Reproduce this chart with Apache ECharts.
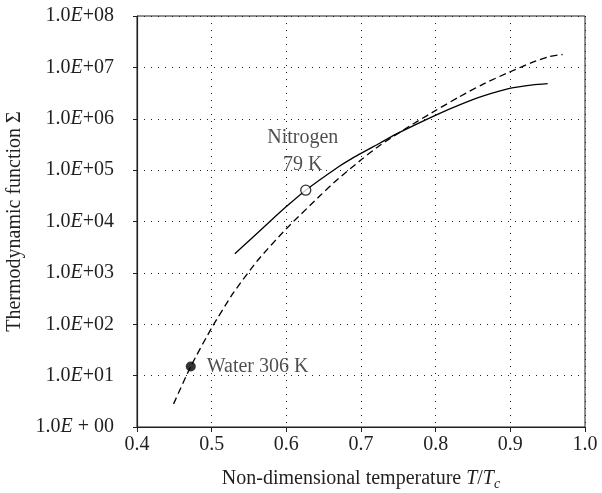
<!DOCTYPE html>
<html><head><meta charset="utf-8">
<script src="https://cdn.jsdelivr.net/npm/echarts@6/dist/echarts.min.js"></script>
<style>html,body{margin:0;padding:0;background:#fff}#c{width:602px;height:493px}</style>
</head><body><div id="c"></div>
<script>
// Nitrogen (solid) curve
const nitrogenX = [0.531, 0.578, 0.600, 0.626, 0.669, 0.687, 0.725, 0.747, 0.801, 0.832, 0.863, 0.899, 0.930, 0.950];
const nitrogenY = [2350, 1.0e4, 1.95e4, 4.07e4, 1.14e5, 1.66e5, 3.34e5, 5.01e5, 1.19e6, 1.86e6, 2.75e6, 3.89e6, 4.57e6, 4.83e6];
// Water (dashed) curve
const waterX = [0.449, 0.472, 0.500, 0.529, 0.562, 0.600, 0.645, 0.667, 0.701, 0.725, 0.761, 0.801, 0.832, 0.863, 0.899, 0.930, 0.952, 0.970];
const waterY = [2.82, 15.1, 85, 407, 1780, 7240, 3.16e4, 6.31e4, 1.62e5, 3.02e5, 6.61e5, 1.48e6, 2.69e6, 4.68e6, 8.13e6, 1.26e7, 1.62e7, 1.78e7];
// Marked points
const nitrogenPoint = [0.626, 4.07e4];
const waterPoint = [0.472, 15.1];

const ink = '#231f20';
const font = 'Liberation Serif';
const fs = 20;
const chart = echarts.init(document.getElementById('c'));
chart.setOption({
  animation: false,
  textStyle: {fontFamily: font, color: ink},
  grid: {left: 137, right: 17, top: 16, bottom: 66, show: true, borderColor: ink, borderWidth: 1,
         containLabel: false, outerBoundsMode: 'none'},
  xAxis: {
    type: 'value', min: 0.4, max: 1.0, interval: 0.1,
    name: 'Non-dimensional temperature {i|T}/{i|T}{s|c}',
    nameLocation: 'middle', nameGap: 40,
    nameTextStyle: {fontFamily: font, fontSize: fs, color: ink,
      rich: {i: {fontFamily: font, fontSize: fs, fontStyle: 'italic', color: ink},
             s: {fontFamily: font, fontSize: 14, fontStyle: 'italic', color: ink, verticalAlign: 'bottom', padding: [10,0,0,0]}}},
    axisLine: {show: true, lineStyle: {color: ink, width: 1.2}},
    axisTick: {show: true, length: 5, lineStyle: {color: ink}},
    axisLabel: {fontFamily: font, fontSize: fs, color: ink, margin: 8, formatter: v => v.toFixed(1)},
    splitLine: {show: true, lineStyle: {color: ink, type: [1, 6], width: 1}}
  },
  yAxis: {
    type: 'log', logBase: 10, min: 1, max: 1e8, splitNumber: 8,
    name: 'Thermodynamic function Σ',
    nameLocation: 'middle', nameGap: 101, nameRotate: 90,
    nameTextStyle: {fontFamily: font, fontSize: fs, color: ink},
    axisLine: {show: true, lineStyle: {color: ink, width: 1.2}},
    axisTick: {show: true, length: 4, lineStyle: {color: ink}},
    axisLabel: {
      fontFamily: font, fontSize: fs, color: ink, margin: 23,
      formatter: v => {
        const e = Math.round(Math.log10(v));
        if (e === 0) return '1.0{e|E} + 00';
        return '1.0{e|E}+' + (e < 10 ? '0' : '') + e;
      },
      rich: {e: {fontFamily: font, fontSize: fs, fontStyle: 'italic', color: ink}}
    },
    splitLine: {show: true, lineStyle: {color: ink, type: [1, 6], width: 1}}
  },
  series: [
    {type: 'line', data: nitrogenX.map((x, i) => [x, nitrogenY[i]]), smooth: 0.2, showSymbol: false,
     lineStyle: {color: '#000', width: 1.3}, z: 2},
    {type: 'line', data: waterX.map((x, i) => [x, waterY[i]]), smooth: 0.2, showSymbol: false,
     lineStyle: {color: '#000', width: 1.3, type: [7, 4]}, z: 2},
    {type: 'scatter', data: [nitrogenPoint], symbol: 'circle', symbolSize: 10,
     itemStyle: {color: '#fff', borderColor: '#000', borderWidth: 1.3}, z: 5,
     label: {show: true, position: 'top', distance: 6, offset: [-3, 0], formatter: 'Nitrogen\n79 K',
       fontFamily: font, fontSize: fs, color: ink, lineHeight: 27, align: 'center'}},
    {type: 'scatter', data: [waterPoint], symbol: 'circle', symbolSize: 10,
     itemStyle: {color: '#000'}, z: 5,
     label: {show: true, position: 'right', distance: 11, formatter: 'Water 306 K',
       fontFamily: font, fontSize: fs, color: ink}}
  ]
});
</script></body></html>
